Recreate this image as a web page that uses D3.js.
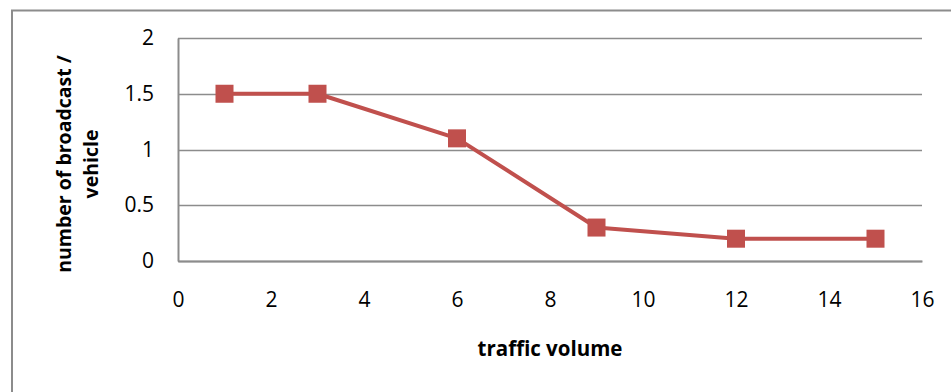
<!DOCTYPE html>
<html>
<head>
<meta charset="utf-8">
<script src="https://cdn.jsdelivr.net/npm/d3@7"></script>
<style>
  html, body { margin: 0; padding: 0; background: #fff; }
  svg { display: block; font-family: "Open Sans", "Liberation Sans", sans-serif; }
</style>
</head>
<body>
<svg id="chart" width="951" height="392"></svg>
<script>
// Broadcasts per vehicle against traffic volume
const trafficVolume = [1, 3, 6, 9, 12, 15];
const broadcastsPerVehicle = [1.5, 1.5, 1.1, 0.3, 0.2, 0.2];
const xTicks = [0, 2, 4, 6, 8, 10, 12, 14, 16];
const yTicks = [0, 0.5, 1, 1.5, 2];
const xTitle = "traffic volume";
const yTitleLines = ["number of broadcast /", "vehicle"];

const svg = d3.select("#chart");
const W = 951, H = 392;
const plot = { left: 178, top: 38, right: 922, bottom: 261 };
const seriesColor = "#C0504D";
const gridColor = "#8C8C8C";

// outer chart frame (runs off the right and bottom edges)
svg.append("rect")
  .attr("x", 12).attr("y", 10.5)
  .attr("width", W + 20).attr("height", H + 20)
  .attr("fill", "none").attr("stroke", "#8C8C8C").attr("stroke-width", 2);

const x = d3.scaleLinear().domain([0, 16]).range([plot.left, plot.right]);
const y = d3.scaleLinear().domain([0, 2]).range([plot.bottom, plot.top]);

// horizontal gridlines
svg.append("g")
  .selectAll("line")
  .data(yTicks)
  .join("line")
  .attr("x1", plot.left).attr("x2", plot.right)
  .attr("y1", d => Math.round(y(d)) + 0.5).attr("y2", d => Math.round(y(d)) + 0.5)
  .attr("stroke", gridColor).attr("stroke-width", 1.5);

// y axis
const yAxis = svg.append("g")
  .attr("transform", `translate(${plot.left},0)`)
  .call(d3.axisLeft(y).tickValues(yTicks).tickSize(0).tickPadding(24)
    .tickFormat(d => String(d)));
yAxis.select(".domain").attr("stroke", gridColor).attr("stroke-width", 2);
yAxis.selectAll("text").attr("font-size", 21).attr("fill", "#000")
  .attr("font-family", "Open Sans, sans-serif");

// x axis
const xAxis = svg.append("g")
  .attr("transform", `translate(0,${plot.bottom})`)
  .call(d3.axisBottom(x).tickValues(xTicks).tickSize(0).tickPadding(31)
    .tickFormat(d => String(d)));
xAxis.select(".domain").attr("stroke", gridColor).attr("stroke-width", 2);
xAxis.selectAll("text").attr("font-size", 21).attr("fill", "#000")
  .attr("font-family", "Open Sans, sans-serif");

// data line
const pts = trafficVolume.map((v, i) => [v, broadcastsPerVehicle[i]]);
svg.append("path")
  .datum(pts)
  .attr("fill", "none")
  .attr("stroke", seriesColor)
  .attr("stroke-width", 4)
  .attr("stroke-linejoin", "round")
  .attr("d", d3.line().x(d => x(d[0])).y(d => y(d[1])));

// square markers
const ms = 18;
svg.append("g")
  .selectAll("rect")
  .data(pts)
  .join("rect")
  .attr("x", d => x(d[0]) - ms / 2)
  .attr("y", d => y(d[1]) - ms / 2)
  .attr("width", ms).attr("height", ms)
  .attr("fill", seriesColor);

// axis titles
svg.append("text")
  .attr("x", (plot.left + plot.right) / 2)
  .attr("y", 356)
  .attr("text-anchor", "middle")
  .attr("font-size", 20.5).attr("font-weight", "bold")
  .text(xTitle);

const yt = svg.append("text")
  .attr("transform", `translate(71,164) rotate(-90)`)
  .attr("text-anchor", "middle")
  .attr("font-size", 19.5).attr("font-weight", "bold");
yTitleLines.forEach((line, i) => {
  yt.append("tspan").attr("x", 0).attr("dy", i === 0 ? 0 : 27).text(line);
});
</script>
</body>
</html>
